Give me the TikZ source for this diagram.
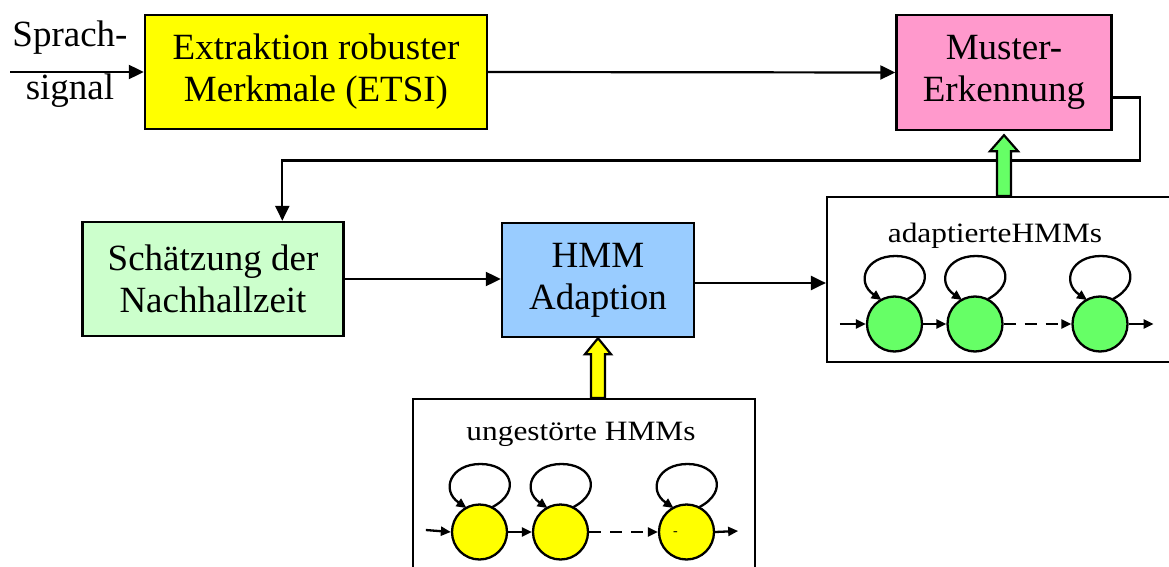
\documentclass[tikz,border=0pt]{standalone}
\usepackage{fontspec}
\setmainfont{Liberation Serif}
\newfontfamily\labelserif[FakeStretch=1.12]{Liberation Serif}
\usetikzlibrary{arrows.meta,calc}
\definecolor{boxyellow}{HTML}{FFFF00}
\definecolor{boxpink}{HTML}{FF99CC}
\definecolor{boxmint}{HTML}{CCFFCC}
\definecolor{boxblue}{HTML}{99CCFF}
\definecolor{stategreen}{HTML}{66FF66}

% self transition drawn above a state
\newcommand\hmmselfloop[1]{%
  \draw[smallarr] ($(#1)+(13,-25)$) .. controls +(30,-16) and +(30,0) .. ($(#1)+(1,-68)$)
    .. controls +(-30,0) and +(-26,-18) .. ($(#1)+(-13,-24)$);}

\begin{document}
\begin{tikzpicture}[x=1pt,y=-1pt,
  block/.style={draw, line width=2.4pt, inner sep=0pt, align=center,
    font=\fontsize{37}{42}\selectfont},
  frame/.style={draw, line width=2.2pt, inner sep=0pt},
  bigtext/.style={inner sep=0pt, font=\fontsize{37}{42}\selectfont},
  smalltext/.style={inner sep=0pt, anchor=base, font=\labelserif\fontsize{28}{32}\selectfont},
  conn/.style={line width=2.2pt, -{Triangle[length=15pt,width=14pt]}},
  smallarr/.style={line width=2.3pt, -{Triangle[length=10pt,width=9pt]}},
  blockarr/.style={draw, line width=2.2pt},
  state/.style={circle, draw, line width=2.3pt, minimum size=55pt, inner sep=0pt}]

\clip (0,0) rectangle (1169,567);
\fill[white] (0,0) rectangle (1169,567);

% processing blocks
\node[block, fill=boxyellow, minimum width=342pt, minimum height=114pt] (ext) at (316,72)
  {Extraktion robuster\\Merkmale (ETSI)};
\node[block, fill=boxpink, minimum width=215pt, minimum height=115pt] (mus) at (1004,72.5)
  {Muster-\\Erkennung};
\node[block, fill=boxmint, minimum width=261pt, minimum height=114pt] (sch) at (213,279)
  {Sch\"atzung der\\Nachhallzeit};
\node[block, fill=boxblue, minimum width=192pt, minimum height=114pt] (hmm) at (598,280)
  {HMM\\Adaption};

% model frames
\node[frame, minimum width=345pt, minimum height=165pt] (adapt) at (999.5,279.5) {};
\node[frame, minimum width=342pt, minimum height=220pt] (ung) at (584,509) {};

% input signal
\coordinate (in) at (10,72);
\node[bigtext, anchor=base] (sp1) at (70,47) {Sprach-};
\node[bigtext, anchor=base] (sp2) at (70,100) {signal};
\draw[conn] (in) -- (ext.west);

% signal flow
\draw[conn] (ext.east) -- (mus.west);
\draw[conn] ($(mus.east)+(0,25)$) -- ++(27,0) -- ++(0,63) -| ($(sch.north west)+(201,0)$);
\draw[conn] (sch.east) -- (sch.east -| hmm.west);
\coordinate (hout) at ($(hmm.east)+(0,3)$);
\draw[conn] (hout) -- (hout -| adapt.west);

% block arrows feeding the models
\draw[blockarr, fill=stategreen] let \p1=(mus.south |- adapt.north), \p2=($(mus.south)+(0,4)$) in
  (\x1-7pt,\y1) -- (\x1-7pt,\y2-16pt) -- (\x1-14pt,\y2-16pt) -- (\x2,\y2)
  -- (\x1+14pt,\y2-16pt) -- (\x1+7pt,\y2-16pt) -- (\x1+7pt,\y1) -- cycle;
\draw[blockarr, fill=boxyellow] let \p1=(hmm.south |- ung.north), \p2=(hmm.south) in
  (\x1-7pt,\y1) -- (\x1-7pt,\y2-16pt) -- (\x1-13pt,\y2-16pt) -- (\x2,\y2)
  -- (\x1+13pt,\y2-16pt) -- (\x1+7pt,\y2-16pt) -- (\x1+7pt,\y1) -- cycle;

% adapted HMMs
\node[smalltext] (atitle) at (995,242) {adaptierteHMMs};
\node[state, fill=stategreen] (a1) at (894.5,324) {};
\node[state, fill=stategreen] (a2) at (975,324) {};
\node[state, fill=stategreen] (a3) at (1100,324) {};
\coordinate (ain) at ($(a1.west)+(-26,0)$);
\coordinate (aout) at ($(a3.east)+(25,0)$);
\draw[smallarr] (ain) -- (a1.west);
\draw[smallarr] (a1.east) -- (a2.west);
\draw[smallarr, dash pattern=on 12pt off 9pt] (a2.east) -- (a3.west);
\draw[smallarr] (a3.east) -- (aout);
\hmmselfloop{a1}
\hmmselfloop{a2}
\hmmselfloop{a3}

% undisturbed HMMs
\node[smalltext] (utitle) at (581,440) {ungest\"orte HMMs};
\node[state, fill=boxyellow] (u1) at (479.5,532) {};
\node[state, fill=boxyellow] (u2) at (560.5,532) {};
\node[state, fill=boxyellow] (u3) at (686.5,532) {};
\node[inner sep=0pt, font=\fontsize{14}{14}\selectfont] (u3mark) at ($(u3)+(-11,2)$) {-};
\coordinate (uin) at ($(u1.west)+(-25,-2)$);
\coordinate (uout) at ($(u3.east)+(23,-1)$);
\draw[smallarr] (uin) -- (u1.west);
\draw[smallarr] (u1.east) -- (u2.west);
\draw[smallarr, dash pattern=on 12pt off 9pt] (u2.east) -- (u3.west);
\draw[smallarr] (u3.east) -- (uout);
\hmmselfloop{u1}
\hmmselfloop{u2}
\hmmselfloop{u3}
\end{tikzpicture}
\end{document}
